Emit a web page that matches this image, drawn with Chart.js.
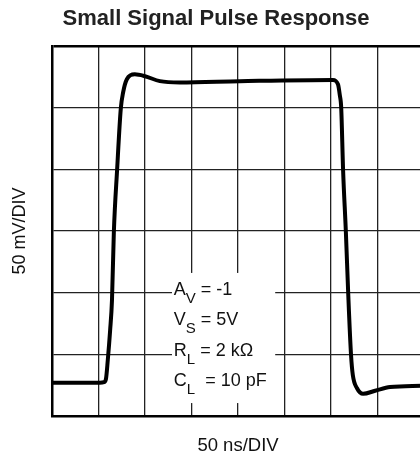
<!DOCTYPE html>
<html>
<head>
<meta charset="utf-8">
<script src="https://cdn.jsdelivr.net/npm/chart.js@4.4.0/dist/chart.umd.min.js"></script>
<style>
  html, body { margin: 0; padding: 0; background: #fff; overflow: hidden; }
  #wrap { width: 430px; height: 463px; }
</style>
</head>
<body>
<div id="wrap"><canvas id="chart" width="430" height="463"></canvas></div>
<script>
// Scope trace, in divisions (x: 50 ns/DIV, y: 50 mV/DIV)
const timeDiv = [0, 1.03, 1.12, 1.16, 1.20, 1.25, 1.29, 1.33, 1.40, 1.48, 1.53, 1.61, 1.78, 2.00, 2.32, 2.75,
                 4.04, 6.04, 6.15, 6.19, 6.22, 6.26, 6.32, 6.37, 6.43, 6.47, 6.56, 6.69, 6.95, 7.27, 7.95];
const voltDiv = [0.54, 0.54, 0.55, 0.60, 0.91, 1.39, 1.88, 2.98, 3.99, 4.99, 5.25, 5.46, 5.54, 5.51, 5.43, 5.41,
                 5.43, 5.45, 5.38, 5.20, 4.99, 3.99, 2.98, 1.99, 1.00, 0.66, 0.45, 0.36, 0.41, 0.47, 0.49];

const xTicks = [0, 1, 2, 3, 4, 5, 6, 7, 8];
const yTicks = [0, 1, 2, 3, 4, 5, 6];

// test conditions: [symbol, subscript, rest]
const notes = [
  ['A', 'V', ' = -1'],
  ['V', 'S', ' = 5V'],
  ['R', 'L', ' = 2 kΩ'],
  ['C', 'L', '  = 10 pF']
];

// layout of the conditions box, in divisions
const noteBox = { left: 2.58, right: 4.80, bottom: 0.21, top: 2.32, textX: 2.62 };
const noteRows = [1.96, 1.47, 0.98, 0.48];

const FONT = '"Liberation Sans", Arial, Helvetica, sans-serif';

const labelsPlugin = {
  id: 'scopeLabels',
  beforeDatasetsDraw(chart) {
    const { ctx, scales: { x, y } } = chart;
    const l = x.getPixelForValue(noteBox.left);
    const r = x.getPixelForValue(noteBox.right);
    const t = y.getPixelForValue(noteBox.top);
    const b = y.getPixelForValue(noteBox.bottom);
    ctx.save();
    ctx.fillStyle = '#fff';
    ctx.fillRect(l, t, r - l, b - t);

    ctx.fillStyle = '#111';
    ctx.textBaseline = 'alphabetic';
    ctx.textAlign = 'left';
    notes.forEach((n, i) => {
      let px = x.getPixelForValue(noteBox.textX);
      const py = y.getPixelForValue(noteRows[i]);
      ctx.font = '18px ' + FONT;
      ctx.fillText(n[0], px, py);
      px += ctx.measureText(n[0]).width;
      ctx.font = '15px ' + FONT;
      ctx.fillText(n[1], px, py + 8);
      px += ctx.measureText(n[1]).width;
      ctx.font = '18px ' + FONT;
      ctx.fillText(n[2], px, py);
    });
    ctx.restore();
  },
  afterDraw(chart) {
    const { ctx, chartArea: a } = chart;
    ctx.save();
    ctx.textAlign = 'center';
    ctx.textBaseline = 'middle';
    ctx.fillStyle = '#222';
    ctx.font = 'bold 22px ' + FONT;
    ctx.fillText('Small Signal Pulse Response', 216, 19);
    ctx.fillStyle = '#111';
    ctx.font = '18.5px ' + FONT;
    ctx.fillText('50 ns/DIV', (a.left + a.right) / 2, 446);
    ctx.font = '18px ' + FONT;
    ctx.translate(20, (a.top + a.bottom) / 2);
    ctx.rotate(-Math.PI / 2);
    ctx.fillText('50 mV/DIV', 0, 0);
    ctx.restore();
  }
};

new Chart(document.getElementById('chart'), {
  type: 'line',
  data: {
    datasets: [{
      data: timeDiv.map((t, i) => ({ x: t, y: voltDiv[i] })),
      borderColor: '#000',
      borderWidth: 4,
      pointRadius: 0,
      fill: false,
      cubicInterpolationMode: 'monotone'
    }]
  },
  options: {
    responsive: false,
    devicePixelRatio: 1,
    animation: false,
    layout: { padding: { left: 52, right: 6, top: 46, bottom: 47 } },
    scales: {
      x: {
        type: 'linear',
        min: 0,
        max: 8,
        afterBuildTicks: s => { s.ticks = xTicks.map(v => ({ value: v })); },
        ticks: { display: false },
        grid: { color: '#222', lineWidth: 1.3, drawTicks: false },
        border: { color: '#000', width: 2.5 }
      },
      y: {
        min: 0,
        max: 6,
        afterBuildTicks: s => { s.ticks = yTicks.map(v => ({ value: v })); },
        ticks: { display: false },
        grid: {
          color: ctx => ctx.tick && ctx.tick.value === 6 ? '#000' : '#222',
          lineWidth: ctx => ctx.tick && ctx.tick.value === 6 ? 2.5 : 1.3,
          drawTicks: false
        },
        border: { color: '#000', width: 2.5 }
      }
    },
    plugins: {
      legend: { display: false },
      tooltip: { enabled: false },
      title: { display: false }
    }
  },
  plugins: [labelsPlugin]
});
</script>
</body>
</html>
